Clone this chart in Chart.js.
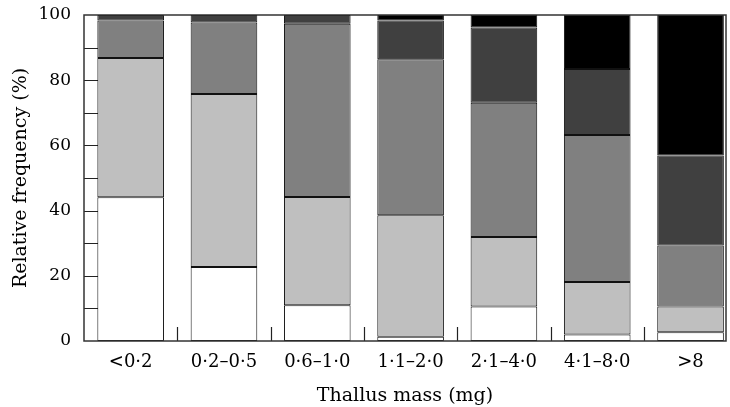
<!DOCTYPE html>
<html>
<head>
<meta charset="utf-8">
<script src="https://cdn.jsdelivr.net/npm/chart.js@4.4.0/dist/chart.umd.min.js"></script>
<style>
  body { margin: 0; background: #fff; }
  #wrap { width: 730px; height: 407px; }
</style>
</head>
<body>
<div id="wrap"><canvas id="chart" width="730" height="407"></canvas></div>
<script>
const categories = ["<0·2", "0·2–0·5", "0·6–1·0", "1·1–2·0", "2·1–4·0", "4·1–8·0", ">8"];
// stacked shares (%), bottom to top
const seriesA = [44.1, 22.7, 11.0, 1.3, 10.6, 2.0, 2.7];
const seriesB = [42.7, 53.1, 33.2, 37.3, 21.3, 16.1, 7.9];
const seriesC = [11.5, 21.9, 53.1, 47.8, 41.2, 45.1, 18.7];
const seriesD = [1.7, 2.3, 2.7, 11.9, 23.1, 20.2, 27.6];
const seriesE = [0, 0, 0, 1.7, 3.8, 16.6, 43.1];
const yTicks = [0, 20, 40, 60, 80, 100];

const fontFamily = "'DejaVu Serif', serif";

function toPoints(vals) {
  return vals.map((v, i) => ({ x: i, y: v }));
}

// inward tick marks and the box around the plot
const frame = {
  id: "frame",
  beforeDatasetsDraw(chart) {
    const { ctx, chartArea, scales } = chart;
    ctx.save();
    ctx.strokeStyle = "#222";
    ctx.lineWidth = 1.2;
    ctx.beginPath();
    for (let v = 10; v < 100; v += 10) {
      const y = Math.round(scales.y.getPixelForValue(v)) + 0.5;
      ctx.moveTo(chartArea.left, y);
      ctx.lineTo(chartArea.left + 14, y);
    }
    for (let i = 0; i < categories.length - 1; i++) {
      const x = Math.round(scales.x.getPixelForValue(i + 0.5)) + 0.5;
      ctx.moveTo(x, chartArea.bottom);
      ctx.lineTo(x, chartArea.bottom - 14);
    }
    ctx.stroke();
    ctx.restore();
  },
  afterDatasetsDraw(chart) {
    const { ctx, chartArea } = chart;
    ctx.save();
    ctx.strokeStyle = "#333";
    ctx.lineWidth = 1.5;
    ctx.strokeRect(chartArea.left, chartArea.top, chartArea.right - chartArea.left, chartArea.bottom - chartArea.top);
    ctx.restore();
  }
};

function ds(label, vals, color) {
  return {
    label: label,
    data: toPoints(vals),
    backgroundColor: color,
    borderColor: "#111",
    borderWidth: 1,
    borderSkipped: false,
    categoryPercentage: 1,
    barPercentage: 0.714
  };
}

new Chart(document.getElementById("chart"), {
  type: "bar",
  data: {
    datasets: [
      ds("A", seriesA, "#ffffff"),
      ds("B", seriesB, "#bfbfbf"),
      ds("C", seriesC, "#808080"),
      ds("D", seriesD, "#404040"),
      ds("E", seriesE, "#000000")
    ]
  },
  options: {
    responsive: false,
    animation: false,
    layout: { padding: { top: 15, right: 4, left: 10, bottom: 0 } },
    plugins: {
      legend: { display: false },
      tooltip: { enabled: false }
    },
    scales: {
      x: {
        type: "linear",
        stacked: true,
        offset: false,
        min: -0.5,
        max: 6.38,
        grid: { display: false, drawTicks: false, tickLength: 0 },
        border: { display: false },
        afterBuildTicks: (axis) => {
          axis.ticks = categories.map((c, i) => ({ value: i }));
        },
        afterFit: (axis) => {
          axis.height = 66;
          axis.paddingLeft = 0;
          axis.paddingRight = 0;
        },
        ticks: {
          color: "#000",
          font: { family: fontFamily, size: 18 },
          padding: 11,
          maxRotation: 0,
          autoSkip: false,
          callback: (v) => categories[v]
        },
        title: {
          display: true,
          text: "Thallus mass (mg)",
          color: "#000",
          font: { family: fontFamily, size: 19 },
          padding: { top: 12, bottom: 0 }
        }
      },
      y: {
        stacked: true,
        min: 0,
        max: 100,
        grid: { display: false, drawTicks: false, tickLength: 0 },
        border: { display: false },
        afterBuildTicks: (axis) => {
          axis.ticks = yTicks.map((v) => ({ value: v }));
        },
        afterFit: (axis) => {
          axis.width = 74;
          axis.paddingTop = 0;
          axis.paddingBottom = 0;
        },
        ticks: {
          color: "#000",
          font: { family: fontFamily, size: 17, lineHeight: 1 },
          padding: 13
        },
        title: {
          display: true,
          text: "Relative frequency (%)",
          color: "#000",
          font: { family: fontFamily, size: 19 },
          padding: { top: 0, bottom: 7 }
        }
      }
    }
  },
  plugins: [frame]
});
</script>
</body>
</html>
